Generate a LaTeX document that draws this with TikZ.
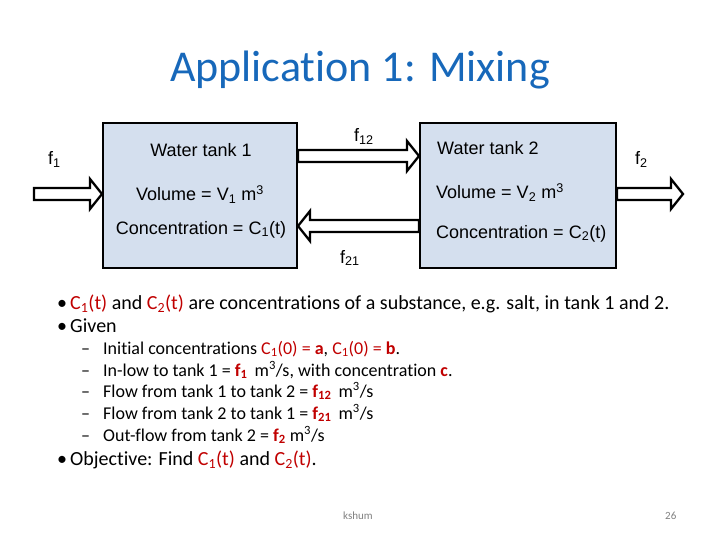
\documentclass[tikz,border=0pt]{standalone}
\usepackage{fontspec}
\setmainfont{Carlito}[Ligatures={NoCommon}]
\newfontfamily\arialf{Liberation Sans}
\usetikzlibrary{calc}
\definecolor{titleblue}{RGB}{23,104,186}
\definecolor{tankfill}{RGB}{212,223,238}
\definecolor{hl}{RGB}{192,0,0}
\definecolor{foot}{RGB}{128,128,128}
\tikzset{
  tank/.style={draw=black, line width=2pt, fill=tankfill, rectangle, minimum width=194pt, minimum height=145pt, inner sep=0pt},
  barrow/.style={draw=black, line width=2.3pt, fill=white, line join=miter},
  boxtext/.style={font=\arialf\fontsize{18}{20}\selectfont, inner sep=0pt},
  flabel/.style={font=\arialf\fontsize{18}{20}\selectfont, inner sep=0pt, anchor=base west},
  bullettext/.style={font=\fontsize{20}{23}\selectfont, inner sep=0pt, anchor=base west},
  subtext/.style={font=\fontsize{18}{21}\selectfont, inner sep=0pt, anchor=base west},
  footer/.style={font=\fontsize{11}{13}\selectfont, text=foot, inner sep=0pt, anchor=base west}
}
\newcommand\blockarrow[2]{%
  \draw[barrow] let \p1=(#1), \p2=(#2), \n1={sign(\x2-\x1)} in
    (\x1,\y1+6pt) -- (\x2-12pt*\n1,\y1+6pt) -- (\x2-12pt*\n1,\y1+15pt) -- (\x2,\y1)
    -- (\x2-12pt*\n1,\y1-15pt) -- (\x2-12pt*\n1,\y1-6pt) -- (\x1,\y1-6pt) -- cycle;}
\newcommand\hlt[1]{\textcolor{hl}{#1}}
\begin{document}
\begin{tikzpicture}[x=1pt,y=-1pt]
\useasboundingbox (0,0) rectangle (720,540);
% title
\node[font=\fontsize{44}{50}\selectfont, text=titleblue, inner sep=0pt, anchor=base] (title) at (360,82) {Application 1: Mixing};
% tanks
\node[tank] (t1) at (200,195.5) {};
\node[tank, minimum width=196pt] (t2) at (518,195.5) {};
% tank texts
\node[boxtext, anchor=base] (w1) at (201,157) {Water tank 1};
\node[boxtext, anchor=base] (v1) at (200,201) {Volume = V\textsubscript{1} m\textsuperscript{3}};
\node[boxtext, anchor=base] (c1) at (201,234) {Concentration = C\textsubscript{1}(t)};
\node[boxtext, anchor=base west] (w2) at (437,155) {Water tank 2};
\node[boxtext, anchor=base west] (v2) at (436,199) {Volume = V\textsubscript{2} m\textsuperscript{3}};
\node[boxtext, anchor=base west] (c2) at (436,238) {Concentration = C\textsubscript{2}(t)};
% flow coordinates
\coordinate (f1s) at (34,194);
\coordinate (y12) at (0,156);
\coordinate (y21) at (0,226);
\coordinate (f2e) at (683,194);
\blockarrow{f1s}{t1.west |- f1s}
\blockarrow{t1.east |- y12}{t2.west |- y12}
\blockarrow{t2.west |- y21}{t1.east |- y21}
\blockarrow{t2.east |- f2e}{f2e}
% flow labels
\node[flabel] (lf1) at (48,165) {f\textsubscript{1}};
\node[flabel] (lf12) at (354,142) {f\textsubscript{12}};
\node[flabel] (lf21) at (340,263) {f\textsubscript{21}};
\node[flabel] (lf2) at (635,165) {f\textsubscript{2}};
% bullets
\node[bullettext] (b1) at (57,309) {•};
\node[bullettext] (b1t) at (70,309) {\hlt{C\textsubscript{1}(t)} and \hlt{C\textsubscript{2}(t)} are concentrations of a substance, e.g. salt, in tank 1 and 2.};
\node[bullettext] (b2) at (57,332) {•};
\node[bullettext] (b2t) at (70,332) {Given};
\foreach \yy/\txt in {
  354/{Initial concentrations \hlt{C\textsubscript{1}(0) = \textbf{a}}, \hlt{C\textsubscript{1}(0) = \textbf{b}}.},
  376/{In-low to tank 1 = \hlt{\textbf{f\textsubscript{1}}}\, m\textsuperscript{3}/s, with concentration \hlt{\textbf{c}}.},
  397/{Flow from tank 1 to tank 2 = \hlt{\textbf{f\textsubscript{12}}}\, m\textsuperscript{3}/s},
  419/{Flow from tank 2 to tank 1 = \hlt{\textbf{f\textsubscript{21}}}\, m\textsuperscript{3}/s},
  441/{Out-flow from tank 2 = \hlt{\textbf{f\textsubscript{2}}} m\textsuperscript{3}/s}}{
  \node[subtext] (d\yy) at (81,\yy) {–};
  \node[subtext] (s\yy) at (103,\yy) {\txt};
}
\node[bullettext] (b3) at (57,465) {•};
\node[bullettext] (b3t) at (70,465) {Objective: Find \hlt{C\textsubscript{1}(t)} and \hlt{C\textsubscript{2}(t)}.};
% footer
\node[footer] (ks) at (343,519) {kshum};
\node[footer] (pg) at (665,519) {26};
\end{tikzpicture}
\end{document}
